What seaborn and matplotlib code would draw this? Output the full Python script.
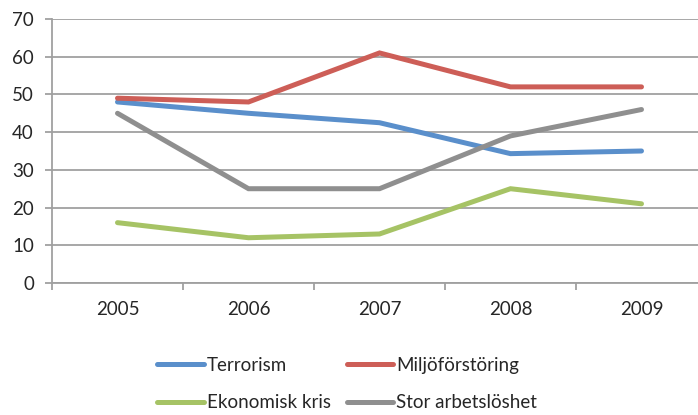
import matplotlib
matplotlib.use('Agg')
import matplotlib.pyplot as plt
import seaborn as sns
import pandas as pd

years = ['2005', '2006', '2007', '2008', '2009']
terrorism = [48, 45, 42.5, 34.3, 35]
miljo = [49, 48, 61, 52, 52]
ekonomisk = [16, 12, 13, 25, 21]
arbetsloshet = [45, 25, 25, 39, 46]

series_names = ['Terrorism', 'Miljöförstöring', 'Ekonomisk kris', 'Stor arbetslöshet']
colors = ['#5a8fcb', '#cd5e57', '#a6c365', '#8f8f8f']

df = pd.DataFrame({
    'year': years * 4,
    'value': terrorism + miljo + ekonomisk + arbetsloshet,
    'serie': [n for n in series_names for _ in years],
})

sns.set_style('white')
plt.rcParams['font.family'] = ['Lato', 'DejaVu Sans']

fig = plt.figure(figsize=(6.98, 4.15), dpi=100)
ax = fig.add_axes([52 / 698, 1 - 283 / 415, 655 / 698, (283 - 19) / 415])

sns.lineplot(data=df, x='year', y='value', hue='serie', palette=colors,
             hue_order=series_names, linewidth=3.6, ax=ax, sort=False)
for line in ax.get_lines():
    line.set_solid_capstyle('round')
    line.set_solid_joinstyle('miter')

ax.set_xlim(-0.5, 4.5)
ax.set_ylim(0, 70)
ax.set_yticks(range(0, 71, 10))
ax.yaxis.grid(True, color='#a0a0a0', linewidth=1.3)
ax.set_axisbelow(True)

# ticks between categories, labels in the middle
ax.set_xticks([-0.5, 0.5, 1.5, 2.5, 3.5, 4.5])
ax.set_xticklabels([])
ax.set_xticks(range(5), minor=True)
ax.set_xticklabels(years, minor=True)
ax.tick_params(axis='x', which='major', length=5, width=1.3, color='#a0a0a0', direction='out', bottom=True)
ax.tick_params(axis='x', which='minor', length=0, labelsize=13.5, pad=13)
ax.tick_params(axis='y', length=5, width=1.3, color='#a0a0a0', direction='out', left=True, labelsize=13.5, pad=8)

for s in ['top', 'right']:
    ax.spines[s].set_visible(False)
for s in ['left', 'bottom']:
    ax.spines[s].set_color('#a0a0a0')
    ax.spines[s].set_linewidth(1.3)

ax.set_xlabel('')
ax.set_ylabel('')

handles, labels = ax.get_legend_handles_labels()
# row-wise order: matplotlib fills legend columns first
order = [0, 2, 1, 3]
ax.legend([handles[i] for i in order], [labels[i] for i in order],
          loc='upper left', bbox_to_anchor=(140 / 698, 1 - 340 / 415),
          bbox_transform=fig.transFigure, ncol=2, frameon=False, fontsize=13.5,
          handlelength=2.5, handletextpad=0.15, columnspacing=0.85, labelspacing=1.1)

fig.savefig('out.png', dpi=100)
